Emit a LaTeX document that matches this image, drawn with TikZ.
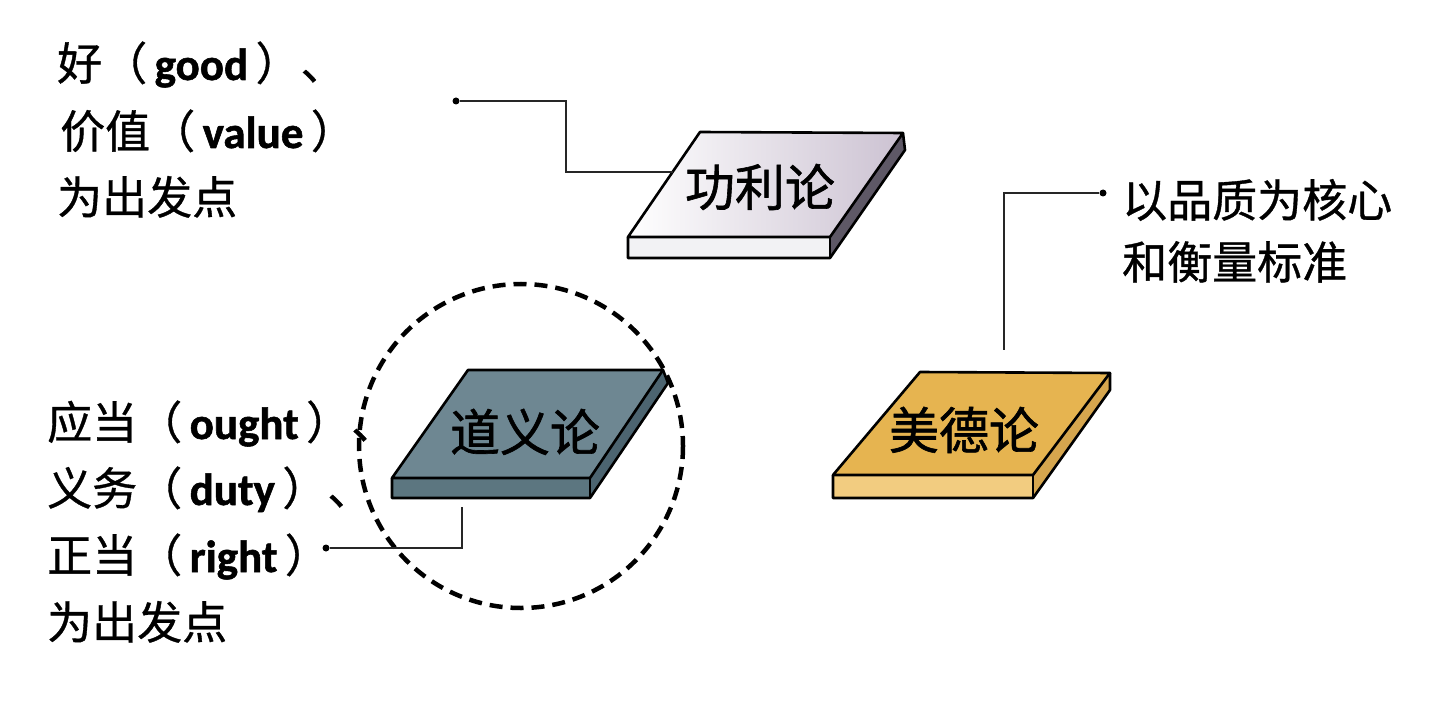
\documentclass[tikz,border=0pt]{standalone}
\usepackage{fontspec}
\newfontfamily\cjk[FakeBold=0.8]{Noto Sans CJK SC}
\newfontfamily\cjklbl[FakeBold=1.2]{Noto Sans CJK SC}
\newfontfamily\latinb[FakeBold=1.2]{Carlito Bold}
\newcommand{\en}[1]{{\latinb\,#1\,}}
\usetikzlibrary{positioning}
\definecolor{gongtop}{RGB}{204,194,210}
\definecolor{gongfront}{RGB}{242,242,244}
\definecolor{gongside}{RGB}{94,88,102}
\definecolor{daotop}{RGB}{110,135,146}
\definecolor{daofront}{RGB}{92,118,128}
\definecolor{daoside}{RGB}{76,100,112}
\definecolor{meitop}{RGB}{230,180,80}
\definecolor{meifront}{RGB}{242,204,128}
\definecolor{meiside}{RGB}{214,166,78}

\begin{document}
\begin{tikzpicture}[x=1pt,y=-1pt,
  slab/.style={draw=black,line width=2.6pt,line join=round},
  lead/.style={line width=1.6pt,draw=black!85},
  dot/.style={circle,fill=black,inner sep=0pt,minimum size=7pt},
  txt/.style={anchor=base west,inner sep=0pt,font=\cjk\fontsize{45}{50}\selectfont},
  lbl/.style={anchor=base,inner sep=0pt,font=\cjklbl\fontsize{50}{55}\selectfont}]
\useasboundingbox (0,0) rectangle (1440,711);

% gong li lun
\begin{scope}
  \fill[gongfront] (628,237) rectangle (830,258);
  \fill[gongside] (830,237) -- (903,133) -- (905,150) -- (830,258) -- cycle;
  \shade[left color=white,right color=gongtop] (700,132) -- (903,133) -- (830,237) -- (628,237) -- cycle;
  \draw[slab] (700,132) -- (903,133) -- (830,237) -- (628,237) -- cycle;
  \draw[slab] (628,237) -- (628,258) -- (830,258) -- (905,150) -- (903,133);
  \draw[slab] (830,237) -- (830,258);
  \node[lbl] (gong) at (760,206) {功利论};
\end{scope}

% dao yi lun
\begin{scope}
  \fill[daofront] (392,478) rectangle (590,498);
  \fill[daoside] (590,478) -- (663,370) -- (668,383) -- (590,498) -- cycle;
  \fill[daotop] (468,370) -- (663,370) -- (590,478) -- (392,478) -- cycle;
  \draw[slab] (468,370) -- (663,370) -- (590,478) -- (392,478) -- cycle;
  \draw[slab] (392,478) -- (392,498) -- (590,498) -- (668,383) -- (663,370);
  \draw[slab] (590,478) -- (590,498);
  \node[lbl] (dao) at (525,451) {道义论};
\end{scope}

% mei de lun
\begin{scope}
  \fill[meifront] (833,475) rectangle (1033,498);
  \fill[meiside] (1033,475) -- (1110,373) -- (1110,390) -- (1033,498) -- cycle;
  \fill[meitop] (920,372) -- (1110,373) -- (1033,475) -- (833,475) -- cycle;
  \draw[slab] (920,372) -- (1110,373) -- (1033,475) -- (833,475) -- cycle;
  \draw[slab] (833,475) -- (833,498) -- (1033,498) -- (1110,390) -- (1110,373);
  \draw[slab] (1033,475) -- (1033,498);
  \node[lbl] (mei) at (964,449) {美德论};
\end{scope}

\draw[line width=4.5pt,dash pattern=on 13pt off 8pt] (521,446) circle (162);

% texts
\node[txt] (good)  at (57,80)  {好（\en{good}）、};
\node[txt] (value) at (60,148) {价值（\en{value}）};
\node[txt] (start1) at (57,214) {为出发点};

\node[txt] (core)  at (1122,217) {以品质为核心};
\node[txt] (norm)  at (1122,279) {和衡量标准};

\node[txt] (ought) at (47,439) {应当（\en{ought}）、};
\node[txt] (duty)  at (47,505) {义务（\en{duty}）、};
\node[txt] (right) at (47,572) {正当（\en{right}）};
\node[txt] (start2) at (47,639) {为出发点};

% leaders
\node[dot] (d1) at (456,101) {};
\coordinate (e1) at (673,172);
\draw[lead] (d1) -| (566,172) -- (e1);

\node[dot] (d2) at (1103,193) {};
\coordinate (e2) at (1004,350);
\draw[lead] (d2) -| (e2);

\node[dot] (d3) at (326,548) {};
\coordinate (e3) at (462,507);
\draw[lead] (d3) -| (e3);
\end{tikzpicture}
\end{document}
